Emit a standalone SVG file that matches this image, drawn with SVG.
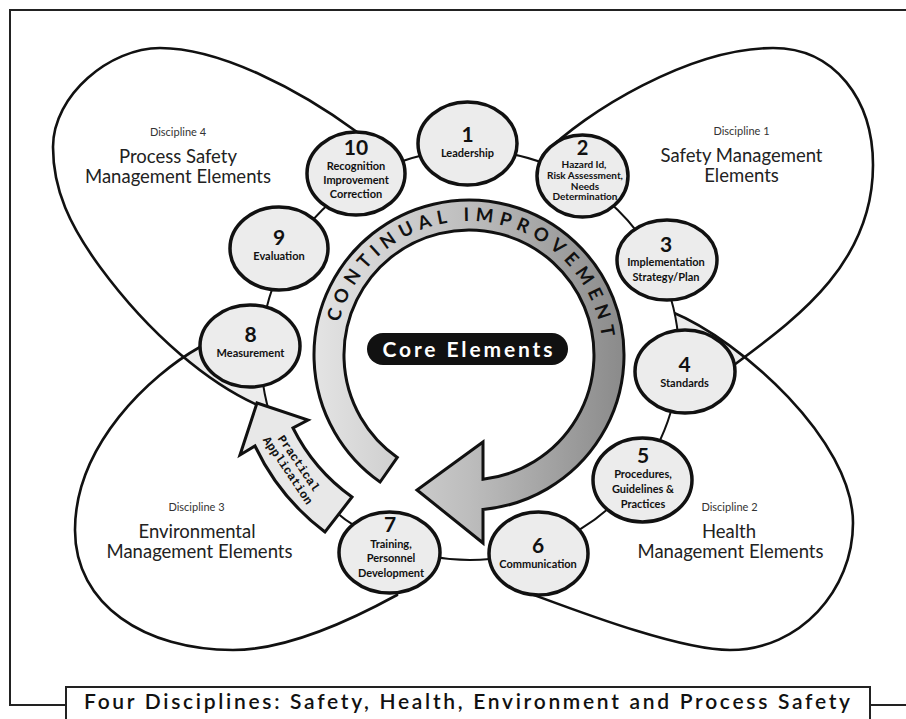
<svg xmlns="http://www.w3.org/2000/svg" xmlns:xlink="http://www.w3.org/1999/xlink" width="906" height="719" viewBox="0 0 906 719">
<style>
.frame{fill:none;stroke:#222;stroke-width:2}
.petal{fill:none;stroke:#111;stroke-width:2.6}
.node ellipse{fill:#ececec;stroke:#111;stroke-width:3.5}
.num{font-family:Lato,'Open Sans','DejaVu Sans',sans-serif;font-weight:700;font-size:21px;fill:#111;text-anchor:middle}
.lbl{font-family:Lato,'Open Sans','DejaVu Sans',sans-serif;font-weight:700;font-size:11px;fill:#111;text-anchor:middle}
.lbs{font-family:Lato,'Open Sans','DejaVu Sans',sans-serif;font-weight:700;font-size:10px;fill:#111;text-anchor:middle}
.dsc{font-family:Lato,'Open Sans','DejaVu Sans',sans-serif;font-size:11px;fill:#333;text-anchor:middle}
.dtl{font-family:Lato,'Open Sans','DejaVu Sans',sans-serif;font-size:18.5px;fill:#222;text-anchor:middle}
.ring{fill:none;stroke:#111;stroke-width:2}
</style>
<defs>
<path id="pTL" d="M470,355 L400,170 L357,132 C300,90 220,48 160,48 C110,48 53,95 53,147 C53,190 70,226 100,267 C150,335 210,385 262,407 L280,420 Z"/>
<path id="pTR" d="M470,355 L555,170 L543,155 C585,112 690,48 773,48 C835,48 873,100 873,165 C873,265 794,320 734,365 L700,375 Z"/>
<path id="pBR" d="M470,355 L672,312 C740,340 853,440 853,523 C853,590 800,650 730,650 C680,650 580,612 534,595 L534,550 Z"/>
<path id="pBL" d="M470,355 L262,346 L200,347 C150,375 75,445 75,530 C75,605 145,650 233,650 C290,650 355,618 397,595 L395,545 Z"/>
<clipPath id="cTL"><use xlink:href="#pTL" href="#pTL"/></clipPath>
<clipPath id="cTR"><use xlink:href="#pTR" href="#pTR"/></clipPath>
<linearGradient id="gCI" gradientUnits="userSpaceOnUse" x1="313" y1="0" x2="625" y2="0">
<stop offset="0" stop-color="#e4e4e4"/>
<stop offset="0.5" stop-color="#bdbdbd"/>
<stop offset="1" stop-color="#8a8a8a"/>
</linearGradient>
<path id="ciPath" d="M335,355 A134,134 0 0 1 603,355"/>
</defs>

<rect width="906" height="719" fill="#fff"/>

<!-- frame -->
<g id="frame">
<path class="frame" d="M66,705 L10,705 L10,10 L906,10 M870,705 L906,705"/>
</g>

<!-- disciplines (petals) -->
<g id="petals">
<use xlink:href="#pBL" href="#pBL" fill="#ececec" clip-path="url(#cTL)"/>
<use xlink:href="#pBR" href="#pBR" fill="#ececec" clip-path="url(#cTR)"/>
<use xlink:href="#pTL" href="#pTL" class="petal"/>
<use xlink:href="#pTR" href="#pTR" class="petal"/>
<use xlink:href="#pBR" href="#pBR" class="petal"/>
<use xlink:href="#pBL" href="#pBL" class="petal"/>
<ellipse cx="470" cy="355" rx="209" ry="205" fill="#fff"/>
</g>

<!-- connectors -->
<g id="connectors">
<ellipse class="ring" cx="470" cy="355" rx="209" ry="205"/>
</g>

<!-- continual improvement arrow -->
<g id="continual-improvement">
<path d="M397.3,457.4 L380.1,482 A155,155 0 1 1 483,509.4 L483,543 L417,490 L483,442 L483,479.2 A125,125 0 1 0 397.3,457.4 Z" fill="url(#gCI)" stroke="#111" stroke-width="3"/>
<text font-family="Lato,'Open Sans','DejaVu Sans',sans-serif" font-weight="700" font-size="18.5" fill="#111"><textPath xlink:href="#ciPath" href="#ciPath" startOffset="218" text-anchor="middle" textLength="370" lengthAdjust="spacing">CONTINUAL IMPROVEMENT</textPath></text>
</g>

<!-- core elements -->
<g id="core">
<rect x="367" y="333" width="201" height="32" rx="16" fill="#111"/>
<text x="467.5" y="357" font-family="Lato,'Open Sans','DejaVu Sans',sans-serif" font-weight="700" font-size="21" fill="#fff" text-anchor="middle" textLength="170" lengthAdjust="spacing">Core Elements</text>
</g>

<!-- practical application arrow -->
<g id="practical">
<path d="M257,403 L308,420 L293,428 A188,188 0 0 0 352,497 L325,532 A231,231 0 0 1 255,446 L240,455 Z" fill="#e8e8e8" stroke="#111" stroke-width="3"/>
<g transform="translate(293,467) rotate(56)" font-family="'Liberation Mono','DejaVu Sans Mono',monospace" font-weight="700" font-size="12" fill="#111" text-anchor="middle">
<text x="0" y="-3">Practical</text>
<text x="0" y="10">Application</text>
</g>
</g>

<!-- nodes -->
<g id="node1" class="node"><ellipse cx="467.5" cy="143.5" rx="49.5" ry="41.5"/><text class="num" x="467.5" y="142">1</text><text class="lbl" x="467.5" y="157">Leadership</text></g>
<g id="node2" class="node"><ellipse cx="582.5" cy="176" rx="45.5" ry="41"/><text class="num" x="582.5" y="155" style="font-size:20px">2</text><text class="lbs" x="584" y="167.5">Hazard Id,</text><text class="lbs" x="585" y="178.5">Risk Assessment,</text><text class="lbs" x="585" y="189.5">Needs</text><text class="lbs" x="585" y="200">Determination</text></g>
<g id="node3" class="node"><ellipse cx="667" cy="260" rx="50" ry="40"/><text class="num" x="666" y="252">3</text><text class="lbl" x="666" y="266">Implementation</text><text class="lbl" x="666" y="281">Strategy/Plan</text></g>
<g id="node4" class="node"><ellipse cx="685" cy="371.5" rx="50" ry="41.5"/><text class="num" x="684.5" y="372">4</text><text class="lbl" x="684.5" y="387">Standards</text></g>
<g id="node5" class="node"><ellipse cx="642.5" cy="480" rx="49.5" ry="42"/><text class="num" x="643" y="463">5</text><text class="lbl" x="643" y="478">Procedures,</text><text class="lbl" x="643" y="493">Guidelines &amp;</text><text class="lbl" x="643" y="508">Practices</text></g>
<g id="node6" class="node"><ellipse cx="538.5" cy="553.5" rx="49.5" ry="41.5"/><text class="num" x="538" y="553">6</text><text class="lbl" x="538" y="568">Communication</text></g>
<g id="node7" class="node"><ellipse cx="389.5" cy="552.5" rx="50.5" ry="40.5"/><text class="num" x="390" y="532">7</text><text class="lbl" x="391" y="548">Training,</text><text class="lbl" x="391" y="562">Personnel</text><text class="lbl" x="391" y="577">Development</text></g>
<g id="node8" class="node"><ellipse cx="250" cy="346" rx="50" ry="41"/><text class="num" x="250.5" y="342">8</text><text class="lbl" x="250.5" y="357">Measurement</text></g>
<g id="node9" class="node"><ellipse cx="279" cy="248.5" rx="49" ry="41.5"/><text class="num" x="279" y="245">9</text><text class="lbl" x="279" y="260">Evaluation</text></g>
<g id="node10" class="node"><ellipse cx="356" cy="173.5" rx="49" ry="41.5"/><text class="num" x="356" y="155">10</text><text class="lbl" x="356" y="170">Recognition</text><text class="lbl" x="356" y="184">Improvement</text><text class="lbl" x="356" y="198">Correction</text></g>

<!-- discipline labels -->
<g id="discipline1"><text class="dsc" x="741.5" y="135">Discipline 1</text><text class="dtl" x="741.5" y="162">Safety Management</text><text class="dtl" x="741.5" y="182">Elements</text></g>
<g id="discipline2"><text class="dsc" x="729.5" y="511">Discipline 2</text><text class="dtl" x="729" y="538">Health</text><text class="dtl" x="730.5" y="558">Management Elements</text></g>
<g id="discipline3"><text class="dsc" x="196.5" y="511">Discipline 3</text><text class="dtl" x="197" y="538">Environmental</text><text class="dtl" x="199.5" y="558">Management Elements</text></g>
<g id="discipline4"><text class="dsc" x="178" y="136">Discipline 4</text><text class="dtl" x="178" y="163">Process Safety</text><text class="dtl" x="178" y="183">Management Elements</text></g>

<!-- title -->
<g id="title">
<rect x="66" y="687" width="804" height="40" fill="#fff" stroke="#222" stroke-width="2"/>
<text x="467" y="709" font-family="Lato,'Open Sans','DejaVu Sans',sans-serif" font-weight="600" font-size="21" fill="#111" text-anchor="middle" textLength="766" lengthAdjust="spacing">Four Disciplines: Safety, Health, Environment and Process Safety</text>
</g>
</svg>
